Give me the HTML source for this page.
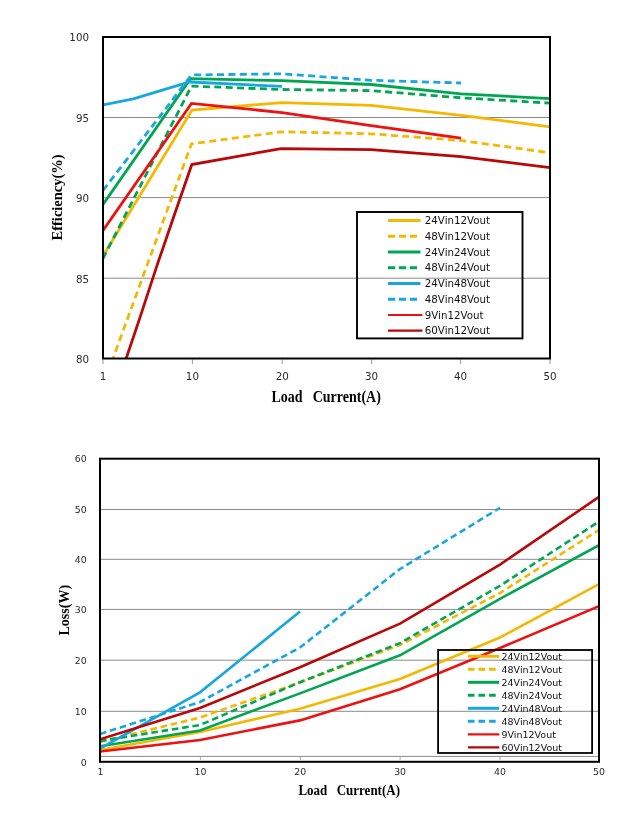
<!DOCTYPE html>
<html><head><meta charset="utf-8"><title>Efficiency and Loss</title>
<style>
html,body{margin:0;padding:0;background:#fff;}
body{width:643px;height:826px;overflow:hidden;}
svg{display:block;will-change:transform;}
.t1{font-family:"DejaVu Sans","Liberation Sans",sans-serif;font-size:10.3px;fill:#2a2a2a;}
.t2{font-family:"DejaVu Sans","Liberation Sans",sans-serif;font-size:9.4px;fill:#2a2a2a;}
.lg1{font-family:"DejaVu Sans","Liberation Sans",sans-serif;font-size:10.25px;fill:#111;}
.lg2{font-family:"DejaVu Sans","Liberation Sans",sans-serif;font-size:9.5px;fill:#111;}
.ti1{font-family:"Liberation Serif",serif;font-weight:bold;font-size:14px;fill:#000;}
.ti2{font-family:"Liberation Serif",serif;font-weight:bold;font-size:13px;fill:#000;}
</style></head>
<body>
<svg width="643" height="826" viewBox="0 0 643 826">
<rect x="0" y="0" width="643" height="826" fill="#fff"/>
<defs><clipPath id="c1"><rect x="103" y="37" width="447" height="321.5"/></clipPath><clipPath id="c2"><rect x="100" y="458.7" width="499" height="303.1"/></clipPath></defs>
<line x1="104" y1="117.5" x2="549" y2="117.5" stroke="#8a8a8a" stroke-width="1"/>
<line x1="104" y1="197.6" x2="549" y2="197.6" stroke="#8a8a8a" stroke-width="1"/>
<line x1="104" y1="278.2" x2="549" y2="278.2" stroke="#8a8a8a" stroke-width="1"/>
<line x1="103" y1="359.5" x2="103" y2="364" stroke="#999" stroke-width="1"/>
<line x1="192.4" y1="359.5" x2="192.4" y2="364" stroke="#999" stroke-width="1"/>
<line x1="282.2" y1="359.5" x2="282.2" y2="364" stroke="#999" stroke-width="1"/>
<line x1="371.6" y1="359.5" x2="371.6" y2="364" stroke="#999" stroke-width="1"/>
<line x1="460.6" y1="359.5" x2="460.6" y2="364" stroke="#999" stroke-width="1"/>
<line x1="550" y1="359.5" x2="550" y2="364" stroke="#999" stroke-width="1"/>
<g clip-path="url(#c1)" fill="none" stroke-linejoin="miter" stroke-linecap="butt">
<polyline points="103,256 192,110 282,102.6 371,105.4 461,115.4 550,126.8" stroke="#F5B800" stroke-width="2.8"/>
<polyline points="111.5,362.5 191.5,143.8 282,131.8 371,133.8 461,140.5 550,152.7" stroke="#F5B800" stroke-width="2.8" stroke-dasharray="7 4.4"/>
<polyline points="103,204.5 190.5,78.7 282,80.7 371,84.5 461,93.8 550,98.6" stroke="#00A651" stroke-width="2.8"/>
<polyline points="103,258.5 191.5,86.1 282,89.5 371,90.6 461,97.8 550,103.1" stroke="#00A651" stroke-width="2.8" stroke-dasharray="7 4.4"/>
<polyline points="103,105 133.4,98.8 189.5,82 282,86.4" stroke="#16A6E2" stroke-width="2.8"/>
<polyline points="103,190.5 191.5,75 282,73.8 371,80.3 461,83" stroke="#16A6E2" stroke-width="2.8" stroke-dasharray="7 4.4"/>
<polyline points="103,230.5 191.5,103.4 282,112.6 371,125.6 461,138.2" stroke="#EE1111" stroke-width="2.8"/>
<polyline points="124.8,362.5 139.2,319.9 157.2,264.9 173.8,216.5 191.8,164.5 281,148.6 371,149.6 461,156.7 550,167.6" stroke="#B80808" stroke-width="2.8"/>
</g>
<rect x="103" y="37" width="447" height="321.5" fill="none" stroke="#000" stroke-width="2"/>
<text x="89" y="41.3" text-anchor="end" class="t1">100</text>
<text x="89" y="121.8" text-anchor="end" class="t1">95</text>
<text x="89" y="201.9" text-anchor="end" class="t1">90</text>
<text x="89" y="282.5" text-anchor="end" class="t1">85</text>
<text x="89" y="362.8" text-anchor="end" class="t1">80</text>
<text x="103" y="380.1" text-anchor="middle" class="t1">1</text>
<text x="192.4" y="380.1" text-anchor="middle" class="t1">10</text>
<text x="282.2" y="380.1" text-anchor="middle" class="t1">20</text>
<text x="371.6" y="380.1" text-anchor="middle" class="t1">30</text>
<text x="460.6" y="380.1" text-anchor="middle" class="t1">40</text>
<text x="550" y="380.1" text-anchor="middle" class="t1">50</text>
<g transform="translate(0,401.8) scale(1,1.12)"><text x="271.5" y="0" class="ti1">Load</text><text x="312.7" y="0" class="ti1">Current(A)</text></g>
<text transform="translate(61.8,197.4) rotate(-90)" x="0" y="0" text-anchor="middle" class="ti1" style="font-size:14.5px">Efficiency(%)</text>
<rect x="357" y="212" width="165.5" height="126.4" fill="none" stroke="#000" stroke-width="1.9"/>
<line x1="388" y1="220.4" x2="420.5" y2="220.4" stroke="#F5B800" stroke-width="3"/>
<text x="424.8" y="224.1" class="lg1">24Vin12Vout</text>
<line x1="388" y1="236.2" x2="420.5" y2="236.2" stroke="#F5B800" stroke-width="3" stroke-dasharray="7.2 3.7"/>
<text x="424.8" y="239.9" class="lg1">48Vin12Vout</text>
<line x1="388" y1="251.9" x2="420.5" y2="251.9" stroke="#00A651" stroke-width="3"/>
<text x="424.8" y="255.6" class="lg1">24Vin24Vout</text>
<line x1="388" y1="267.7" x2="420.5" y2="267.7" stroke="#00A651" stroke-width="3" stroke-dasharray="7.2 3.7"/>
<text x="424.8" y="271.4" class="lg1">48Vin24Vout</text>
<line x1="388" y1="283.4" x2="420.5" y2="283.4" stroke="#16A6E2" stroke-width="3"/>
<text x="424.8" y="287.1" class="lg1">24Vin48Vout</text>
<line x1="388" y1="299.2" x2="420.5" y2="299.2" stroke="#16A6E2" stroke-width="3" stroke-dasharray="7.2 3.7"/>
<text x="424.8" y="302.9" class="lg1">48Vin48Vout</text>
<line x1="388" y1="315.0" x2="422.4" y2="315.0" stroke="#EE1111" stroke-width="2.2"/>
<text x="424.8" y="318.7" class="lg1">9Vin12Vout</text>
<line x1="388" y1="330.7" x2="422.4" y2="330.7" stroke="#B80808" stroke-width="2.2"/>
<text x="424.8" y="334.4" class="lg1">60Vin12Vout</text>
<line x1="101" y1="509.5" x2="598" y2="509.5" stroke="#8a8a8a" stroke-width="1"/>
<line x1="101" y1="559.3" x2="598" y2="559.3" stroke="#8a8a8a" stroke-width="1"/>
<line x1="101" y1="609.4" x2="598" y2="609.4" stroke="#8a8a8a" stroke-width="1"/>
<line x1="101" y1="660.2" x2="598" y2="660.2" stroke="#8a8a8a" stroke-width="1"/>
<line x1="101" y1="711.3" x2="598" y2="711.3" stroke="#8a8a8a" stroke-width="1"/>
<line x1="101" y1="756.4" x2="598" y2="756.4" stroke="#8a8a8a" stroke-width="1"/>
<line x1="200.4" y1="756.9" x2="200.4" y2="760" stroke="#999" stroke-width="0.8"/>
<line x1="300.3" y1="756.9" x2="300.3" y2="760" stroke="#999" stroke-width="0.8"/>
<line x1="400.1" y1="756.9" x2="400.1" y2="760" stroke="#999" stroke-width="0.8"/>
<line x1="500" y1="756.9" x2="500" y2="760" stroke="#999" stroke-width="0.8"/>
<g clip-path="url(#c2)" fill="none" stroke-linejoin="miter" stroke-linecap="butt">
<polyline points="100,750 200,732 300,708.7 400,679 500,637.5 599,584.1" stroke="#F5B800" stroke-width="2.6"/>
<polyline points="100,742 200,717.5 300,682.5 400,645 500,593 599,529.9" stroke="#F5B800" stroke-width="2.6" stroke-dasharray="6.6 3.8"/>
<polyline points="100,746.3 200,730.5 300,693.4 400,655.3 500,598.8 599,545.2" stroke="#00A651" stroke-width="2.6"/>
<polyline points="100,741 200,725 300,682.2 400,643.1 500,585.8 599,521.5" stroke="#00A651" stroke-width="2.6" stroke-dasharray="6.6 3.8"/>
<polyline points="100,748.5 200,692.3 300,611.6" stroke="#16A6E2" stroke-width="2.6"/>
<polyline points="100,734 200,702 300,647.5 400,569 500,507.8" stroke="#16A6E2" stroke-width="2.6" stroke-dasharray="6.6 3.8"/>
<polyline points="100,751.5 200,740 300,720.4 400,689.3 500,648 599,606.1" stroke="#EE1111" stroke-width="2.6"/>
<polyline points="100,739.3 200,708 300,667.2 400,623.6 500,564.6 599,496.9" stroke="#B80808" stroke-width="2.6"/>
</g>
<rect x="100" y="458.7" width="499" height="303.1" fill="none" stroke="#000" stroke-width="2"/>
<text x="86.8" y="462.0" text-anchor="end" class="t2">60</text>
<text x="86.8" y="512.8" text-anchor="end" class="t2">50</text>
<text x="86.8" y="562.6" text-anchor="end" class="t2">40</text>
<text x="86.8" y="612.7" text-anchor="end" class="t2">30</text>
<text x="86.8" y="663.5" text-anchor="end" class="t2">20</text>
<text x="86.8" y="714.6" text-anchor="end" class="t2">10</text>
<text x="86.8" y="765.6" text-anchor="end" class="t2">0</text>
<text x="100.4" y="775" text-anchor="middle" class="t2">1</text>
<text x="200.4" y="775" text-anchor="middle" class="t2">10</text>
<text x="300.3" y="775" text-anchor="middle" class="t2">20</text>
<text x="400.1" y="775" text-anchor="middle" class="t2">30</text>
<text x="500" y="775" text-anchor="middle" class="t2">40</text>
<text x="599" y="775" text-anchor="middle" class="t2">50</text>
<g transform="translate(0,795.4) scale(1,1.12)"><text x="298.4" y="0" class="ti2">Load</text><text x="336.7" y="0" class="ti2">Current(A)</text></g>
<text transform="translate(68.6,610.2) rotate(-90)" x="0" y="0" text-anchor="middle" class="ti1">Loss(W)</text>
<rect x="438.1" y="650" width="154" height="103" fill="none" stroke="#000" stroke-width="1.8"/>
<line x1="467.9" y1="656.3" x2="499" y2="656.3" stroke="#F5B800" stroke-width="3"/>
<text x="501.5" y="659.7" class="lg2">24Vin12Vout</text>
<line x1="467.9" y1="669.3" x2="499" y2="669.3" stroke="#F5B800" stroke-width="3" stroke-dasharray="6.6 4"/>
<text x="501.5" y="672.7" class="lg2">48Vin12Vout</text>
<line x1="467.9" y1="682.3" x2="499" y2="682.3" stroke="#00A651" stroke-width="3"/>
<text x="501.5" y="685.7" class="lg2">24Vin24Vout</text>
<line x1="467.9" y1="695.3" x2="499" y2="695.3" stroke="#00A651" stroke-width="3" stroke-dasharray="6.6 4"/>
<text x="501.5" y="698.7" class="lg2">48Vin24Vout</text>
<line x1="467.9" y1="708.3" x2="499" y2="708.3" stroke="#16A6E2" stroke-width="3"/>
<text x="501.5" y="711.7" class="lg2">24Vin48Vout</text>
<line x1="467.9" y1="721.3" x2="499" y2="721.3" stroke="#16A6E2" stroke-width="3" stroke-dasharray="6.6 4"/>
<text x="501.5" y="724.7" class="lg2">48Vin48Vout</text>
<line x1="467.9" y1="734.3" x2="499.3" y2="734.3" stroke="#EE1111" stroke-width="2.3"/>
<text x="501.5" y="737.7" class="lg2">9Vin12Vout</text>
<line x1="467.9" y1="747.3" x2="499.3" y2="747.3" stroke="#B80808" stroke-width="2.3"/>
<text x="501.5" y="750.7" class="lg2">60Vin12Vout</text>
</svg>
</body></html>
